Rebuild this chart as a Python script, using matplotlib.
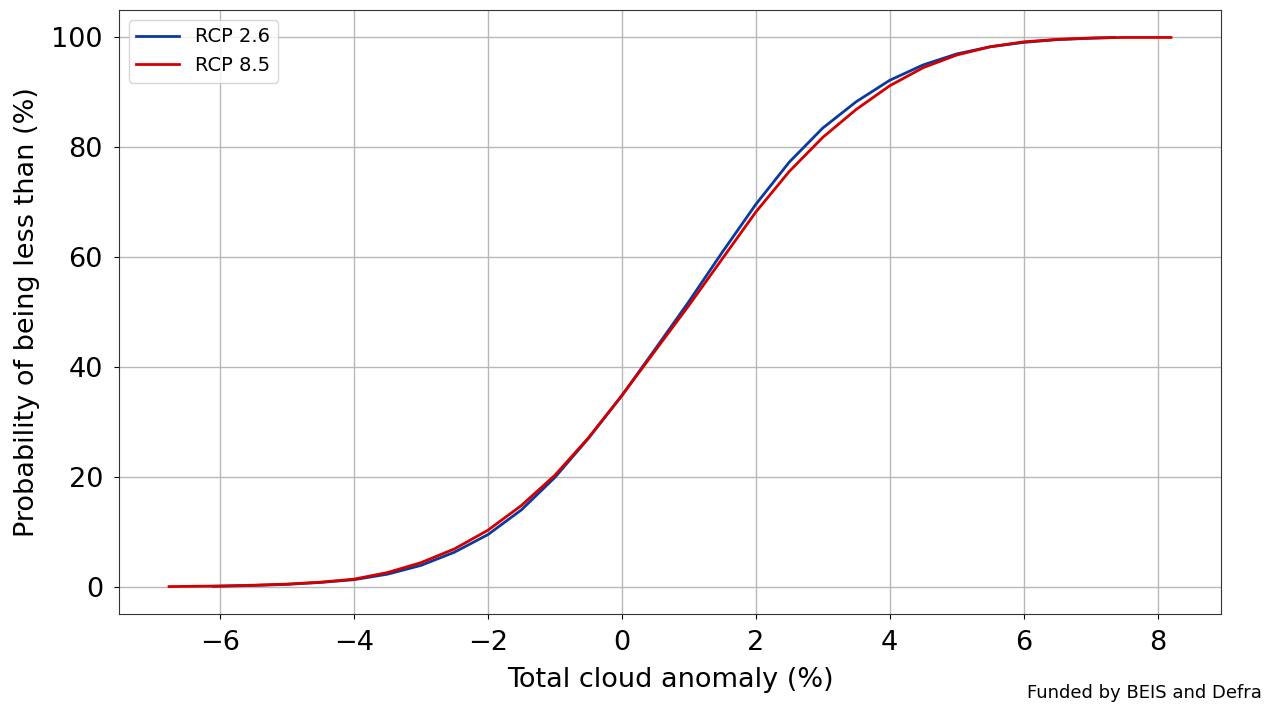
import matplotlib

matplotlib.use("Agg")
import matplotlib.pyplot as plt

# values (cumulative probability, %)
rcp26_x = [-6.1, -5.5, -5.0, -4.5, -4.0, -3.5, -3.0, -2.5, -2.0, -1.5, -1.0, -0.5, 0.0,
           0.5, 1.0, 1.5, 2.0, 2.5, 3.0, 3.5, 4.0, 4.5, 5.0, 5.5, 6.0, 6.5, 7.0, 7.36]
rcp26_y = [0.1, 0.25, 0.45, 0.8, 1.3, 2.3, 3.9, 6.3, 9.5, 14.0, 19.9, 27.0, 34.8,
           43.3, 51.9, 60.9, 69.6, 77.3, 83.5, 88.3, 92.2, 95.0, 97.0, 98.3, 99.1, 99.6, 99.85, 100.0]

rcp85_x = [-6.76, -6.0, -5.5, -5.0, -4.5, -4.0, -3.5, -3.0, -2.5, -2.0, -1.5, -1.0, -0.5,
           0.0, 0.5, 1.0, 1.5, 2.0, 2.5, 3.0, 3.5, 4.0, 4.5, 5.0, 5.5, 6.0, 6.5, 7.0, 7.5, 8.2]
rcp85_y = [0.05, 0.15, 0.3, 0.5, 0.85, 1.4, 2.6, 4.4, 6.9, 10.3, 14.8, 20.3, 27.1,
           34.8, 43.0, 51.2, 59.7, 68.2, 75.6, 81.8, 86.9, 91.2, 94.5, 96.8, 98.3, 99.2, 99.65, 99.9, 100.0, 100.0]

xticks = [-6, -4, -2, 0, 2, 4, 6, 8]
yticks = [0, 20, 40, 60, 80, 100]

fig = plt.figure(figsize=(12.71, 7.04), dpi=100)
ax = fig.add_axes([0.0936, 0.1278, 0.8671, 0.858])

ax.plot(rcp26_x, rcp26_y, color="#0a3a9e", linewidth=2.0, label="RCP 2.6",
        solid_joinstyle="round")
ax.plot(rcp85_x, rcp85_y, color="#d40000", linewidth=2.0, label="RCP 8.5",
        solid_joinstyle="round")

ax.set_xticks(xticks)
ax.set_yticks(yticks)
ax.tick_params(axis="both", labelsize=19.5)
ax.tick_params(axis="x", pad=8)
ax.tick_params(axis="y", pad=8)
ax.grid(True, color="#b8b8b8", linewidth=1.0)
ax.set_axisbelow(True)
ax.set_xlabel("Total cloud anomaly (%)", fontsize=19.5, labelpad=8)
ax.set_ylabel("Probability of being less than (%)", fontsize=19.5, labelpad=8)
for s in ax.spines.values():
    s.set_color("#333333")

ax.legend(loc="upper left", fontsize=14, handlelength=2.2)

fig.text(0.993, 0.003, "Funded by BEIS and Defra", ha="right", va="bottom", fontsize=13)

fig.savefig("out.png", dpi=100)
plt.close(fig)
